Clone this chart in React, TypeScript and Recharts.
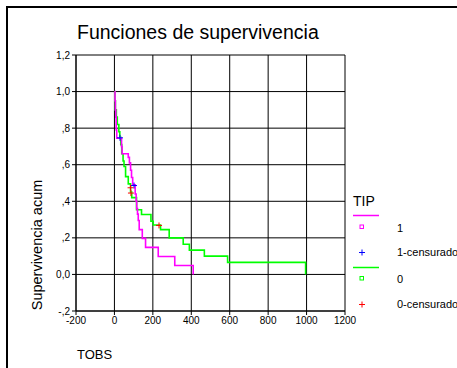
import React from "react";
import {
  CartesianGrid,
  ComposedChart,
  Line,
  Scatter,
  XAxis,
  YAxis,
} from "recharts";

// Kaplan-Meier steps (time, cumulative survival)
const TIP1_TIMES = [0, 3, 5, 7, 9, 12, 37, 40, 72, 78, 84, 89, 95, 108, 113, 116, 120, 124, 129, 145, 162, 228, 314, 410];
const TIP1_SURV = [1.0, 0.95, 0.9, 0.86, 0.79, 0.745, 0.7, 0.66, 0.64, 0.61, 0.57, 0.53, 0.49, 0.44, 0.4, 0.36, 0.33, 0.295, 0.245, 0.197, 0.148, 0.098, 0.049, 0.0];
const TIP1_CENS_TIMES = [29, 102];
const TIP1_CENS_SURV = [0.747, 0.486];

const TIP0_TIMES = [0, 2, 5, 10, 15, 23, 28, 33, 38, 45, 50, 58, 72, 84, 90, 115, 141, 190, 202, 240, 285, 358, 390, 468, 589, 995];
const TIP0_SURV = [1.0, 0.95, 0.9, 0.86, 0.82, 0.78, 0.75, 0.71, 0.66, 0.62, 0.59, 0.535, 0.495, 0.45, 0.42, 0.354, 0.328, 0.291, 0.27, 0.245, 0.2, 0.165, 0.133, 0.1, 0.066, 0.0];
const TIP0_CENS_TIMES = [84, 86, 232];
const TIP0_CENS_SURV = [0.474, 0.445, 0.268];

const X_TICKS = [-200, 0, 200, 400, 600, 800, 1000, 1200];
const Y_TICKS = [-0.2, 0, 0.2, 0.4, 0.6, 0.8, 1.0, 1.2];

const MAGENTA = "#ff00ff";
const GREEN = "#00ff00";
const BLUE = "#0000ff";
const RED = "#ff0000";
const FONT = "Arial, 'Liberation Sans', sans-serif";

const zip = (ts: number[], ss: number[]) => ts.map((t, i) => ({ t, s: ss[i] }));

const tip1 = zip(TIP1_TIMES, TIP1_SURV);
const tip1Cens = zip(TIP1_CENS_TIMES, TIP1_CENS_SURV);
const tip0 = zip(TIP0_TIMES, TIP0_SURV);
const tip0Cens = zip(TIP0_CENS_TIMES, TIP0_CENS_SURV);

// SPSS style decimals: 1,0  ,8  0,0  -,2
function fmtY(v: number) {
  const s = v.toFixed(1).replace(".", ",");
  if (s === "0,0") return s;
  return s.replace(/^(-?)0,/, "$1,");
}

function plus(color: string) {
  return (props: any) => {
    const { cx, cy } = props;
    return (
      <path
        d={`M${cx - 3},${cy}h6M${cx},${cy - 3}v6`}
        stroke={color}
        strokeWidth={1}
        fill="none"
      />
    );
  };
}

const txt: React.CSSProperties = {
  position: "absolute",
  fontFamily: FONT,
  color: "#000",
  whiteSpace: "nowrap",
  lineHeight: 1,
};

export default function App() {
  return (
    <div
      style={{
        position: "absolute",
        left: 0,
        top: 0,
        width: 457,
        height: 368,
        background: "#fff",
        overflow: "hidden",
      }}
    >
      {/* frame */}
      <div
        style={{
          position: "absolute",
          left: 6,
          top: 6,
          width: 470,
          height: 380,
          borderLeft: "2px solid #000",
          borderTop: "2px solid #000",
        }}
      />

      <div style={{ ...txt, left: 77, top: 23, fontSize: 19.5 }}>Funciones de supervivencia</div>

      <ComposedChart
        width={457}
        height={368}
        margin={{ top: 55, right: 112, bottom: 37, left: 0 }}
        style={{ position: "absolute", left: 0, top: 0 }}
      >
        <CartesianGrid stroke="#000" strokeWidth={1} />
        <XAxis
          type="number"
          dataKey="t"
          domain={[-200, 1200]}
          ticks={X_TICKS}
          interval={0}
          height={20}
          tickSize={4}
          tickMargin={2}
          stroke="#000"
          tick={{ fill: "#000", fontSize: 10, fontFamily: FONT }}
          allowDataOverflow
        />
        <YAxis
          type="number"
          dataKey="s"
          domain={[-0.2, 1.2]}
          ticks={Y_TICKS}
          interval={0}
          width={76}
          tickSize={4}
          tickMargin={2}
          tickFormatter={fmtY}
          stroke="#000"
          tick={{ fill: "#000", fontSize: 10, fontFamily: FONT }}
          allowDataOverflow
        />
        <Line
          data={tip0}
          dataKey="s"
          type="stepAfter"
          stroke={GREEN}
          strokeWidth={1.6}
          dot={false}
          isAnimationActive={false}
        />
        <Line
          data={tip1}
          dataKey="s"
          type="stepAfter"
          stroke={MAGENTA}
          strokeWidth={1.6}
          dot={false}
          isAnimationActive={false}
        />
        <Scatter data={tip1Cens} dataKey="s" shape={plus(BLUE)} isAnimationActive={false} />
        <Scatter data={tip0Cens} dataKey="s" shape={plus(RED)} isAnimationActive={false} />
      </ComposedChart>

      {/* axis titles */}
      <div
        style={{
          ...txt,
          left: 37,
          top: 245,
          fontSize: 14.5,
          transform: "translate(-50%, -50%) rotate(-90deg)",
        }}
      >
        Supervivencia acum
      </div>
      <div style={{ ...txt, left: 77, top: 348, fontSize: 13 }}>TOBS</div>

      {/* legend */}
      <div style={{ ...txt, left: 353, top: 194, fontSize: 14 }}>TIP</div>
      <svg style={{ position: "absolute", left: 0, top: 0 }} width={457} height={368}>
        <line x1={353} x2={379} y1={215.5} y2={215.5} stroke={MAGENTA} strokeWidth={1.5} />
        <rect x={360} y={225} width={3.5} height={3.5} fill="none" stroke={MAGENTA} strokeWidth={1} />
        <path d="M359,252.5h6M362,249.5v6" stroke={BLUE} strokeWidth={1} />
        <line x1={353} x2={379} y1={267.5} y2={267.5} stroke={GREEN} strokeWidth={1.5} />
        <rect x={360} y={276.5} width={3.5} height={3.5} fill="none" stroke={GREEN} strokeWidth={1} />
        <path d="M359,304.5h6M362,301.5v6" stroke={RED} strokeWidth={1} />
      </svg>
      <div style={{ ...txt, left: 397, top: 223, fontSize: 11 }}>1</div>
      <div style={{ ...txt, left: 397, top: 247, fontSize: 11 }}>1-censurado</div>
      <div style={{ ...txt, left: 397, top: 274, fontSize: 11 }}>0</div>
      <div style={{ ...txt, left: 397, top: 299, fontSize: 11 }}>0-censurado</div>
    </div>
  );
}
